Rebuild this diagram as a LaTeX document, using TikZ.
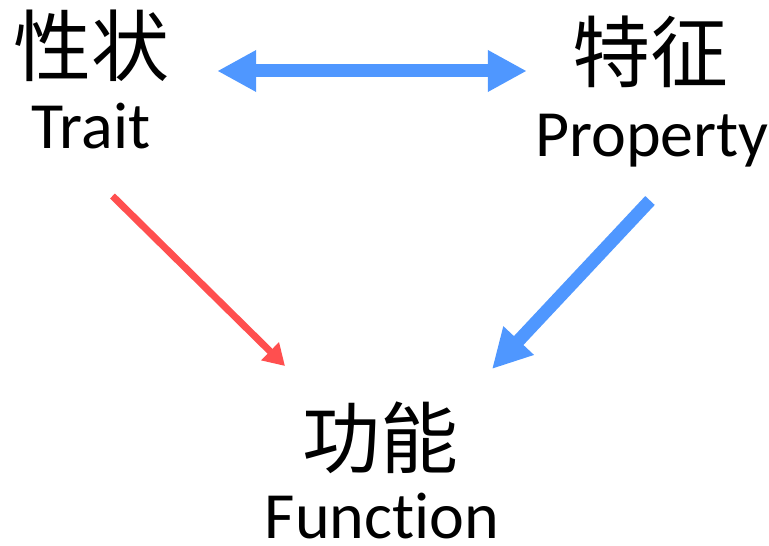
\documentclass[tikz,border=0pt]{standalone}
\usepackage{fontspec}
\setmainfont{Carlito}[Ligatures=NoCommon]
\newfontfamily\cjk{Noto Sans CJK SC}
\usepackage{xcolor}
\usetikzlibrary{arrows.meta,positioning,calc}
\definecolor{arrowblue}{RGB}{79,151,255}
\definecolor{arrowred}{RGB}{255,79,79}

\begin{document}
\begin{tikzpicture}[
  x=1pt, y=1pt,
  cjklabel/.style={inner sep=0pt, font=\cjk\fontsize{78}{78}\selectfont},
  enlabel/.style={inner sep=0pt, anchor=base, font=\fontsize{66}{66}\selectfont},
  bluearrow/.style={arrowblue, line width=13pt, -{Triangle[length=39pt, width=39pt]}},
  redarrow/.style={arrowred, line width=7pt, -{Triangle[length=21pt, width=24pt]}}
]
\useasboundingbox (0,0) rectangle (769,546);

\node[cjklabel] (xingzhuang) at (91,500) {性状};
\node[enlabel] (trait) at (91,397) {Trait};
\node[cjklabel] (tezheng) at (650,494) {特征};
\node[enlabel] (property) at (652,389) {Property};
\node[cjklabel] (gongneng) at (380,108) {功能};
\node[enlabel] (function) at (382,7) {Function};

\draw[bluearrow, {Triangle[length=39pt, width=39pt]}-{Triangle[length=39pt, width=39pt]}]
  ([xshift=48pt, yshift=-25pt]xingzhuang.east) -- ([xshift=-45pt, yshift=-19pt]tezheng.west);
\draw[redarrow] ($(trait.base)+(21.5,-47)$) -- ($(gongneng.center)+(-95,72)$);
\draw[bluearrow] ($(property.base)+(-2,-43.5)$) -- ($(gongneng.center)+(112,69)$);
\end{tikzpicture}
\end{document}
